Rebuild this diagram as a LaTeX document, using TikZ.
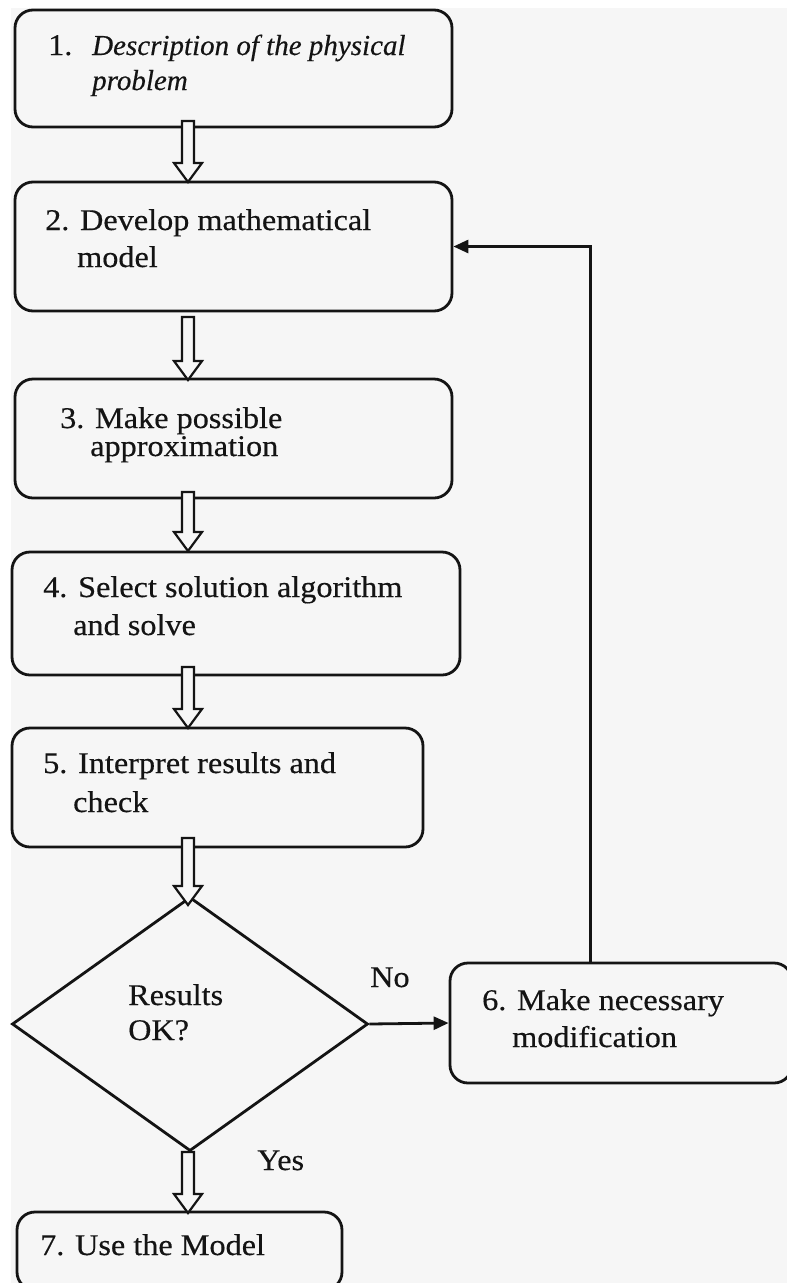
\documentclass[tikz,border=0pt]{standalone}
\usepackage{fontspec}
\setmainfont{Liberation Serif}[FakeStretch=1.075, FakeBold=0.4]
\newfontfamily\itfam{Liberation Serif}[UprightFont=*-Italic, FakeBold=0.4]
\usetikzlibrary{shapes.geometric,arrows.meta}
\definecolor{bgc}{RGB}{246,246,246}
\definecolor{ink}{RGB}{20,20,20}
\begin{document}
\begin{tikzpicture}[x=1pt,y=-1pt,
  box/.style={draw=ink, line width=2.8pt, rectangle, rounded corners=18pt, inner sep=0pt},
  txt/.style={anchor=base west, inner sep=0pt, text=ink, font=\fontsize{30}{35}\selectfont},
  conn/.style={draw=ink, line width=2.8pt, -{Triangle[length=15pt,width=13pt]}},
  pics/barrow/.style={code={
    \draw[ink, line width=2.2pt, fill=bgc, line join=miter]
      (-6,0) -- (-6,#1-19) -- (-14,#1-19) -- (0,#1) -- (14,#1-19) -- (6,#1-19) -- (6,0) -- cycle;}}]
\useasboundingbox (0,0) rectangle (787,1283);
\clip (0,0) rectangle (787,1283);
\fill[white] (0,0) rectangle (787,1283);
\fill[bgc] (11,8) rectangle (787,1283);

% boxes
\node[box, minimum width=437pt, minimum height=117pt] (b1) at (233.5,68.5) {};
\node[box, minimum width=437pt, minimum height=129pt] (b2) at (233.5,246.5) {};
\node[box, minimum width=437pt, minimum height=119pt] (b3) at (233.5,438.5) {};
\node[box, minimum width=448pt, minimum height=123pt] (b4) at (236,613.5) {};
\node[box, minimum width=411pt, minimum height=119pt] (b5) at (217.5,787.5) {};
\node[draw=ink, line width=2.8pt, diamond, inner sep=0pt, minimum width=356pt, minimum height=254pt] (d) at (190,1024) {};
\node[box, minimum width=342pt, minimum height=120pt] (b6) at (621,1023) {};
\node[box, minimum width=325pt, minimum height=78pt] (b7) at (179.5,1251) {};

% texts
\node[txt] (t1n) at (48,55) {1.};
\node[txt] (t1a) at (92,55) {\itfam\fontsize{29}{35}\selectfont Description of the physical};
\node[txt] (t1b) at (92,90) {\itfam\fontsize{29}{35}\selectfont problem};
\node[txt] (t2a) at (45,230) {2. Develop mathematical};
\node[txt] (t2b) at (77,267) {model};
\node[txt] (t3a) at (60,428) {3. Make possible};
\node[txt] (t3b) at (90,456) {approximation};
\node[txt] (t4a) at (43,597) {4. Select solution algorithm};
\node[txt] (t4b) at (73,635) {and solve};
\node[txt] (t5a) at (43,773) {5. Interpret results and};
\node[txt] (t5b) at (73,812) {check};
\node[txt] (tda) at (128,1005) {Results};
\node[txt] (tdb) at (128,1040) {OK?};
\node[txt] (t6a) at (482,1010) {6. Make necessary};
\node[txt] (t6b) at (512,1047) {modification};
\node[txt] (t7) at (40,1255) {7. Use the Model};
\node[txt] (no) at (370,987) {No};
\node[txt] (yes) at (257,1170) {Yes};

% block arrows
\pic at (188,121) {barrow=61};
\pic at (188,317) {barrow=63};
\pic at (188,492) {barrow=59};
\pic at (188,667) {barrow=61};
\pic at (188,838) {barrow=67};
\pic at (188,1152) {barrow=61};

% connectors
\draw[conn] (d.east) -- (b6.west);
\draw[conn] (b6.north west) ++(142,0) |- (b2.east);
\end{tikzpicture}
\end{document}
